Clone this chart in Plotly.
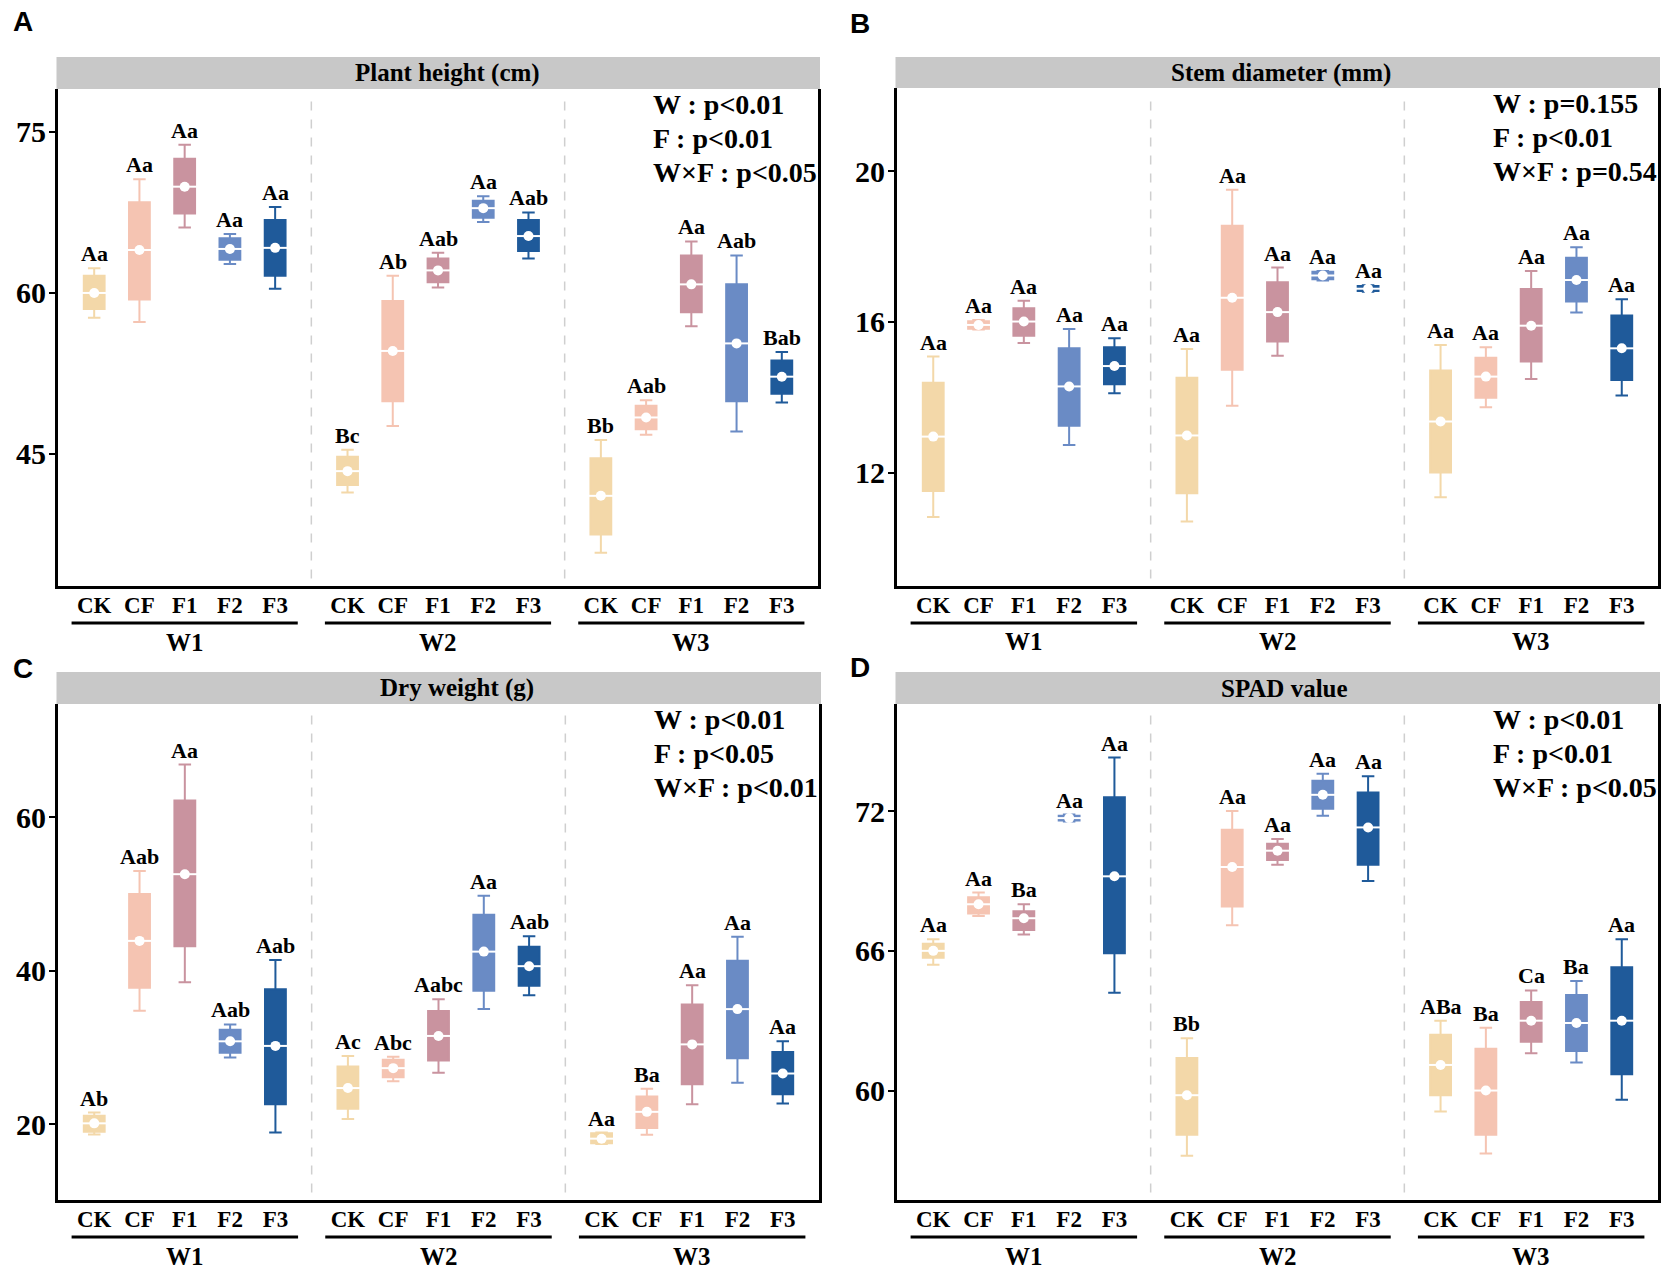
import plotly.graph_objects as go

W_PX, H_PX = 1673, 1279

groups = ["W1", "W2", "W3"]
treatments = ["CK", "CF", "F1", "F2", "F3"]
colors = ["#F3D8A9", "#F5C4B2", "#C9939F", "#6A8BC5", "#1F5A9A"]

# ---------------- Panel A: Plant height (cm) ----------------
ph_upper = [62.3, 70.6, 73.8, 65.5, 68.0,  45.4, 61.6, 63.75, 69.0, 67.5,  46.3, 50.0, 64.8, 63.5, 54.5]
ph_q3    = [61.6, 68.45, 72.5, 65.1, 66.8, 44.75, 59.25, 63.2, 68.6, 66.8,  44.6, 49.5, 63.5, 60.8, 53.7]
ph_med   = [60.0, 64.0, 69.9, 64.1, 64.2,  43.4, 54.6, 62.1, 67.9, 65.3,   41.1, 48.4, 60.8, 55.3, 52.2]
ph_q1    = [58.5, 59.4, 67.4, 63.1, 61.6,  42.1, 49.9, 61.0, 67.0, 63.9,   37.5, 47.3, 58.2, 49.9, 50.6]
ph_lower = [57.7, 57.3, 66.1, 62.7, 60.4,  41.4, 47.6, 60.5, 66.6, 63.2,   35.8, 46.8, 56.9, 47.1, 49.8]
ph_labels = ["Aa", "Aa", "Aa", "Aa", "Aa", "Bc", "Ab", "Aab", "Aa", "Aab", "Bb", "Aab", "Aa", "Aab", "Bab"]
ph_stats = ["W : p<0.01", "F : p<0.01", "W×F : p<0.05"]
ph_ticks = [45, 60, 75]

# ---------------- Panel B: Stem diameter (mm) ----------------
sd_upper = [15.08, 16.05, 16.56, 15.81, 15.57,  15.28, 19.50, 17.44, 17.35, 16.97,  15.39, 15.33, 17.35, 17.98, 16.60]
sd_q3    = [14.39, 16.02, 16.36, 15.30, 15.33,  14.52, 18.55, 17.05, 17.33, 16.95,  14.71, 15.05, 16.87, 17.70, 16.17]
sd_med   = [12.96, 15.92, 16.01, 14.29, 14.83,  12.99, 16.64, 16.26, 17.23, 16.88,  13.36, 14.55, 15.90, 17.11, 15.30]
sd_q1    = [11.52, 15.82, 15.63, 13.25, 14.35,  11.46, 14.73, 15.48, 17.13, 16.82,  12.01, 13.99, 14.95, 16.54, 14.46]
sd_lower = [10.83, 15.80, 15.44, 12.74, 14.11,  10.71, 13.78, 15.10, 17.10, 16.80,  11.35, 13.74, 14.49, 16.25, 14.05]
sd_labels = ["Aa"] * 15
sd_stats = ["W : p=0.155", "F : p<0.01", "W×F : p=0.54"]
sd_ticks = [12, 16, 20]

# ---------------- Panel C: Dry weight (g) ----------------
dw_upper = [21.5, 53.0, 66.9, 33.0, 41.4,  28.9, 28.8, 36.3, 49.8, 44.5,   18.9, 24.6, 38.1, 44.45, 30.8]
dw_q3    = [21.1, 50.0, 62.2, 32.3, 37.6,  27.5, 28.4, 34.75, 47.3, 43.15, 18.8, 23.6, 35.6, 41.3, 29.4]
dw_med   = [20.1, 43.9, 52.6, 30.8, 30.2,  24.7, 27.3, 31.5, 42.5, 40.6,   18.1, 21.6, 30.4, 35.0, 26.6]
dw_q1    = [19.0, 37.8, 43.2, 29.3, 22.6,  22.0, 26.1, 28.3, 37.4, 38.05,  17.5, 19.5, 25.2, 28.6, 23.9]
dw_lower = [18.65, 34.8, 38.5, 28.7, 18.9, 20.65, 25.6, 26.7, 35.0, 36.8,  17.4, 18.6, 22.6, 25.4, 22.7]
dw_labels = ["Ab", "Aab", "Aa", "Aab", "Aab", "Ac", "Abc", "Aabc", "Aa", "Aab", "Aa", "Ba", "Aa", "Aa", "Aa"]
dw_stats = ["W : p<0.01", "F : p<0.05", "W×F : p<0.01"]
dw_ticks = [20, 40, 60]

# ---------------- Panel D: SPAD value ----------------
sp_upper = [66.5, 68.5, 68.0, 71.85, 74.3,  62.25, 72.0, 70.8, 73.6, 73.5,  63.0, 62.7, 64.3, 64.7, 66.5]
sp_q3    = [66.3, 68.3, 67.7, 71.8, 72.6,   61.4, 71.2, 70.6, 73.3, 72.8,   62.4, 61.8, 63.8, 64.1, 65.3]
sp_med   = [66.0, 68.0, 67.4, 71.7, 69.2,   59.8, 69.6, 70.3, 72.7, 71.3,   61.1, 60.0, 63.0, 62.9, 63.0]
sp_q1    = [65.7, 67.6, 66.9, 71.6, 65.9,   58.1, 67.9, 69.9, 72.1, 69.7,   59.8, 58.1, 62.1, 61.7, 60.7]
sp_lower = [65.4, 67.5, 66.7, 71.55, 64.2,  57.2, 67.1, 69.7, 71.8, 69.0,   59.1, 57.3, 61.6, 61.2, 59.6]
sp_labels = ["Aa", "Aa", "Ba", "Aa", "Aa", "Bb", "Aa", "Aa", "Aa", "Aa", "ABa", "Ba", "Ca", "Ba", "Aa"]
sp_stats = ["W : p<0.01", "F : p<0.01", "W×F : p<0.05"]
sp_ticks = [60, 66, 72]

panels = [
    dict(letter="A", title="Plant height (cm)", up=ph_upper, q3=ph_q3, med=ph_med, q1=ph_q1, lo=ph_lower,
         labels=ph_labels, stats=ph_stats, ticks=ph_ticks, yrange=[32.7, 79.0],
         px=(58, 818), py=(89, 586), strip_top=57, letter_pos=(23, 22), title_dx=9),
    dict(letter="B", title="Stem diameter (mm)", up=sd_upper, q3=sd_q3, med=sd_med, q1=sd_q1, lo=sd_lower,
         labels=sd_labels, stats=sd_stats, ticks=sd_ticks, yrange=[9.0, 22.2],
         px=(897, 1658), py=(88, 586), strip_top=57, letter_pos=(860, 23), title_dx=3),
    dict(letter="C", title="Dry weight (g)", up=dw_upper, q3=dw_q3, med=dw_med, q1=dw_q1, lo=dw_lower,
         labels=dw_labels, stats=dw_stats, ticks=dw_ticks, yrange=[10.1, 74.8],
         px=(58, 819), py=(704, 1200), strip_top=672, letter_pos=(23, 668), title_dx=18),
    dict(letter="D", title="SPAD value", up=sp_upper, q3=sp_q3, med=sp_med, q1=sp_q1, lo=sp_lower,
         labels=sp_labels, stats=sp_stats, ticks=sp_ticks, yrange=[55.3, 76.6],
         px=(897, 1658), py=(704, 1200), strip_top=672, letter_pos=(860, 667), title_dx=7),
]

FACET_W = 5.6
PAD = 0.8
X_RANGE = [0, 3 * FACET_W]
SERIF = "Liberation Serif, Times New Roman, serif"
SANS = "Liberation Sans, Arial, sans-serif"

def xpos(k, i):
    return k * FACET_W + PAD + i

fig = go.Figure()
annotations = []
shapes = []
layout_axes = {}

for p, pan in enumerate(panels):
    xa = "x" if p == 0 else f"x{p+1}"
    ya = "y" if p == 0 else f"y{p+1}"
    xkey = "xaxis" if p == 0 else f"xaxis{p+1}"
    ykey = "yaxis" if p == 0 else f"yaxis{p+1}"
    x0px, x1px = pan["px"]
    ytop, ybot = pan["py"]
    plot_h = ybot - ytop

    tickvals, ticktext = [], []
    for k in range(3):
        for i, t in enumerate(treatments):
            tickvals.append(xpos(k, i))
            ticktext.append(t)

    layout_axes[xkey] = dict(
        domain=[x0px / W_PX, x1px / W_PX], range=X_RANGE, anchor=ya,
        tickmode="array", tickvals=tickvals, ticktext=ticktext,
        showline=True, linecolor="black", linewidth=3, mirror=False,
        ticks="", showgrid=False, zeroline=False,
        tickfont=dict(family=SERIF, size=23, color="black", weight="bold"),
        ticklabelstandoff=-4,
    )
    layout_axes[ykey] = dict(
        domain=[1 - ybot / H_PX, 1 - ytop / H_PX], range=pan["yrange"], anchor=xa,
        tickmode="array", tickvals=pan["ticks"],
        showline=True, linecolor="black", linewidth=3, mirror=True,
        ticks="outside", ticklen=6, tickwidth=2, tickcolor="black",
        showgrid=False, zeroline=False,
        tickfont=dict(family=SERIF, size=30, color="black", weight="bold"),
        ticklabelstandoff=-3,
    )

    # boxes, one trace per treatment
    for i, t in enumerate(treatments):
        idx = [k * 5 + i for k in range(3)]
        xs = [xpos(k, i) for k in range(3)]
        fig.add_trace(go.Box(
            x=xs,
            q1=[pan["q1"][j] for j in idx],
            median=[pan["med"][j] for j in idx],
            q3=[pan["q3"][j] for j in idx],
            lowerfence=[pan["lo"][j] for j in idx],
            upperfence=[pan["up"][j] for j in idx],
            fillcolor=colors[i], line=dict(color=colors[i], width=2),
            width=0.46, whiskerwidth=0.6, boxpoints=False,
            xaxis=xa, yaxis=ya, showlegend=False, hoverinfo="skip",
        ))
        # white median line
        fig.add_trace(go.Scatter(
            x=xs, y=[pan["med"][j] for j in idx], mode="markers",
            marker=dict(symbol="line-ew", size=22, line=dict(color="white", width=2)),
            xaxis=xa, yaxis=ya, showlegend=False, hoverinfo="skip",
        ))
        # white dot
        fig.add_trace(go.Scatter(
            x=xs, y=[pan["med"][j] for j in idx], mode="markers",
            marker=dict(symbol="circle", size=10, color="white", line=dict(width=0)),
            xaxis=xa, yaxis=ya, showlegend=False, hoverinfo="skip",
        ))
        # letters
        for k, j in enumerate(idx):
            annotations.append(dict(
                x=xpos(k, i), y=pan["up"][j], xref=xa, yref=ya,
                text=pan["labels"][j], showarrow=False, yanchor="bottom", yshift=0,
                font=dict(family=SERIF, size=22, color="black", weight="bold"),
            ))

    # dashed facet separators
    for k in (1, 2):
        shapes.append(dict(
            type="line", xref=xa, yref=f"{ya} domain", x0=k * FACET_W, x1=k * FACET_W,
            y0=0.015, y1=0.985, line=dict(color="#CFCFCF", width=1.5, dash="dash"), layer="below",
        ))

    # group underlines & labels
    ul_y = -(37 / plot_h)
    wl_y = -(56 / plot_h)
    for k, g in enumerate(groups):
        shapes.append(dict(
            type="line", xref=xa, yref=f"{ya} domain",
            x0=xpos(k, 0) - 0.5, x1=xpos(k, 4) + 0.5, y0=ul_y, y1=ul_y,
            line=dict(color="black", width=3),
        ))
        annotations.append(dict(
            x=xpos(k, 2), y=wl_y, xref=xa, yref=f"{ya} domain", text=g, showarrow=False,
            yanchor="middle", font=dict(family=SERIF, size=25, color="black", weight="bold"),
        ))

    # strip
    strip_h = ytop - pan["strip_top"]
    shapes.append(dict(
        type="rect", xref="paper", yref="paper",
        x0=(x0px - 1.5) / W_PX, x1=(x1px + 2) / W_PX,
        y0=1 - ytop / H_PX, y1=1 - pan["strip_top"] / H_PX,
        fillcolor="#C8C8C8", line=dict(width=0), layer="below",
    ))
    annotations.append(dict(
        x=((x0px + x1px) / 2 + pan["title_dx"]) / W_PX, y=1 - (pan["strip_top"] + strip_h / 2) / H_PX,
        xref="paper", yref="paper", text=pan["title"], showarrow=False,
        xanchor="center", yanchor="middle",
        font=dict(family=SERIF, size=25, color="black", weight="bold"),
    ))

    # stats text
    for li, s in enumerate(pan["stats"]):
        annotations.append(dict(
            x=0.78, y=1 - (16 + 34 * li) / plot_h, xref=f"{xa} domain", yref=f"{ya} domain",
            text=s, showarrow=False, xanchor="left", yanchor="middle",
            font=dict(family=SERIF, size=28, color="black", weight="bold"),
        ))

    # panel letter
    lx, ly = pan["letter_pos"]
    annotations.append(dict(
        x=lx / W_PX, y=1 - ly / H_PX,
        xref="paper", yref="paper", text=pan["letter"], showarrow=False,
        xanchor="center", yanchor="middle",
        font=dict(family=SANS, size=28, color="black", weight="bold"),
    ))

fig.update_layout(
    width=W_PX, height=H_PX, margin=dict(l=0, r=0, t=0, b=0),
    paper_bgcolor="white", plot_bgcolor="white",
    showlegend=False, annotations=annotations, shapes=shapes,
    **layout_axes,
)

fig.write_html("out.html", config={"displayModeBar": False},
               post_script="document.body.style.margin='0';")
